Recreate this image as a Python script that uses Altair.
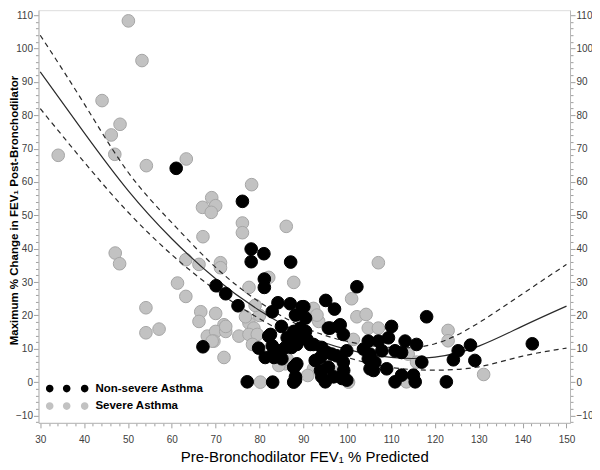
import altair as alt
import pandas as pd

# ---- Severe asthma (grey) ----
sev_x = [50.1, 53.2, 44.1, 48.2, 46.2, 47.0, 34.1, 54.2, 63.3, 78.2,
         67.0, 69.1, 70.0, 69.0, 76.1, 76.1, 86.1, 67.1, 47.1, 48.1,
         63.2, 66.2, 71.1, 71.1, 61.3, 63.2, 54.1, 54.1, 57.1, 66.6,
         70.0, 66.2, 68.1, 71.9, 70.0, 69.6, 72.3, 75.3, 71.9, 77.6,
         82.1, 77.6, 78.7, 77.6, 79.5, 78.4, 76.8, 80.2, 85.9, 87.8,
         107.1, 101.0, 102.2, 104.3, 92.3, 93.5, 100.3, 92.3, 104.8, 113.9,
         115.8, 113.5, 123.0, 123.0, 131.1, 101.4, 93.1, 86.3, 84.4, 80.0,
         79.0, 97.0, 107.1, 91.0, 72.3, 69.2]
sev_y = [108.3, 96.4, 84.4, 77.3, 74.1, 68.3, 68.0, 64.9, 66.9, 59.2,
         52.4, 55.3, 52.9, 50.9, 47.7, 44.8, 46.7, 43.6, 38.7, 35.5,
         36.7, 35.3, 35.8, 34.3, 29.7, 25.7, 22.3, 14.8, 15.9, 21.1,
         20.6, 18.2, 13.8, 17.2, 15.2, 12.3, 15.2, 13.8, 7.4, 28.4,
         31.4, 17.7, 16.2, 14.3, 14.3, 11.3, 19.6, 0.0, 5.5, 29.9,
         35.8, 25.0, 19.6, 20.3, 22.1, 18.2, 0.0, 4.0, 16.2, 8.4,
         6.0, 0.1, 15.5, 12.4, 2.3, 12.8, 20.1, 6.9, 5.0, 20.0,
         23.0, 3.0, 16.2, 2.0, 16.7, 12.3]

# ---- Non-severe asthma (black) ----
non_x = [61.0, 76.1, 78.1, 81.0, 78.1, 87.1, 70.1, 72.3, 75.1, 67.1,
         81.1, 81.1, 79.8, 77.2, 83.0, 87.8, 84.2, 87.0, 82.9, 85.0,
         82.1, 82.9, 84.0, 85.1, 87.8, 87.8, 87.8, 102.2, 95.1, 97.1,
         90.1, 88.2, 90.5, 95.7, 98.0, 99.1, 90.5, 88.9, 91.6, 94.2,
         96.5, 99.9, 99.1, 88.2, 92.7, 95.7, 88.2, 94.2, 95.0, 98.8,
         99.9, 104.8, 107.1, 109.4, 110.1, 113.2, 115.8, 103.7, 104.8, 106.3,
         109.0, 110.9, 112.4, 106.0, 110.9, 112.4, 115.1, 115.5, 117.0, 122.6,
         118.1, 125.3, 124.2, 128.1, 129.1, 142.2, 89.7, 89.3, 82.5, 83.3,
         86.3, 85.9, 88.5, 90.8, 92.3, 83.3, 96.1, 98.4, 95.4, 93.9,
         97.6, 88.5, 88.2, 93.9, 96.9, 99.2, 105.2, 107.9, 105.2, 87.3,
         81.3, 84.3, 88.1]
non_y = [64.1, 54.2, 39.9, 38.5, 36.1, 36.0, 28.9, 26.5, 22.9, 10.6,
         30.9, 28.4, 10.2, 0.1, 0.0, 0.0, 23.8, 23.5, 21.1, 16.7,
         13.8, 10.9, 9.4, 7.0, 15.2, 12.3, 4.5, 28.6, 24.5, 21.9,
         22.6, 20.1, 19.2, 16.2, 16.7, 14.3, 15.2, 12.3, 11.3, 10.4,
         8.4, 9.4, 6.0, 5.0, 6.5, 4.5, 0.6, 1.6, 0.1, 1.1,
         0.6, 12.3, 12.3, 13.3, 16.7, 12.3, 11.3, 9.9, 7.0, 6.0,
         4.0, 9.4, 8.9, 3.5, 0.1, 2.1, 2.1, 0.1, 6.0, 0.1,
         19.6, 9.4, 6.7, 11.1, 6.5, 11.5, 22.6, 16.2, 14.3, 9.4,
         13.3, 10.4, 11.3, 12.8, 11.3, 7.4, 16.2, 17.2, 8.9, 7.4,
         7.9, 5.5, 1.6, 3.5, 1.6, 3.5, 8.4, 9.4, 4.0, 10.4,
         7.4, 9.4, 13.3]

# ---- Fitted curve and confidence limits ----
fit_x = [30, 40, 50, 60, 70, 80, 90, 100, 110, 120, 130, 140, 150]
fit_mid = [93.0, 74.8, 57.5, 43.0, 31.0, 21.5, 14.3, 9.8, 7.4, 7.5, 10.8, 16.8, 22.8]
fit_hi = [104.0, 83.5, 63.0, 47.8, 34.4, 24.0, 16.5, 12.2, 10.4, 11.5, 17.8, 26.5, 35.3]
fit_lo = [82.0, 66.0, 51.0, 38.2, 27.6, 19.0, 12.2, 7.4, 4.4, 3.6, 4.6, 7.8, 10.2]

groups = ["Non-severe Asthma", "Severe Asthma"]
group_colors = ["#000000", "#c2c2c2"]

pts = pd.concat([
    pd.DataFrame({"x": sev_x, "y": sev_y, "group": groups[1]}),
    pd.DataFrame({"x": non_x, "y": non_y, "group": groups[0]}),
], ignore_index=True)
fit = pd.DataFrame({"x": fit_x, "mid": fit_mid, "hi": fit_hi, "lo": fit_lo})

FONT = "Liberation Sans, Arial, sans-serif"

xscale = alt.Scale(domain=[29.6, 150.8], nice=False, zero=False)
yscale = alt.Scale(domain=[-12.2, 111.5], nice=False, zero=False)

major_test = "datum.value % 10 === 0"
xaxis = alt.Axis(
    values=list(range(30, 151, 2)),
    labelExpr=f"{major_test} ? datum.label : ''",
    tickSize={"condition": {"test": major_test, "value": 5}, "value": 3},
    title="Pre-Bronchodilator FEV\u2081 % Predicted",
    titleFont=FONT, titleFontSize=15, titleFontWeight="normal", titleColor="#000000",
    titlePadding=5,
    labelFont=FONT, labelFontSize=10, labelColor="#404040", labelPadding=7,
    domainColor="#b8b8b8", tickColor="#a0a0a0", grid=False,
)

def yaxis(orient, title):
    kw = dict(
        orient=orient,
        values=list(range(-12, 111, 2)),
        labelExpr=f"{major_test} ? datum.label : ''",
        tickSize={"condition": {"test": major_test, "value": 5}, "value": 3},
        labelFont=FONT, labelFontSize=10, labelColor="#404040", labelPadding=1,
        domainColor="#b8b8b8", tickColor="#a0a0a0", grid=False,
        title=title,
    )
    if title:
        kw.update(titleFont=FONT, titleFontSize=11.5, titleFontWeight="bold",
                  titleColor="#000000", titleAngle=270, titleX=-23.5, titleY=200,
                  titleAlign="center", titleBaseline="middle")
    return alt.Axis(**kw)

# three dots per legend entry
r = 3.8
dots = " ".join(
    f"M{cx - r},0A{r},{r} 0 1,1 {cx + r},0A{r},{r} 0 1,1 {cx - r},0Z" for cx in (-17, 0, 18)
)
legend = alt.Legend(
    title=None, orient="none", legendX=22.5, legendY=373, padding=0,
    symbolType=dots, symbolSize=4, symbolStrokeWidth=0, symbolOpacity=1,
    labelFont=FONT, labelFontSize=11.5, labelFontWeight="bold", labelColor="#000000",
    labelOffset=23, rowPadding=4.5,
)
color = alt.Color("group:N", scale=alt.Scale(domain=groups, range=group_colors), legend=legend)
stroke = alt.Stroke("group:N", scale=alt.Scale(domain=groups, range=["#000000", "#a6a6a6"]), legend=None)

grey = alt.Chart(pts).transform_filter(alt.datum.group == groups[1]).mark_point(
    filled=True, size=160, opacity=1, strokeWidth=1, strokeOpacity=1
).encode(
    x=alt.X("x:Q", scale=xscale, axis=xaxis),
    y=alt.Y("y:Q", scale=yscale, axis=yaxis("left", "Maximum % Change in FEV\u2081 Post-Bronchodilator")),
    color=color, stroke=stroke,
)

black = alt.Chart(pts).transform_filter(alt.datum.group == groups[0]).mark_point(
    filled=True, size=160, opacity=1, strokeWidth=1, strokeOpacity=1
).encode(
    x=alt.X("x:Q", scale=xscale, axis=xaxis),
    y=alt.Y("y:Q", scale=yscale, axis=yaxis("right", "")),
    color=color, stroke=stroke,
)

def curve(field, dash):
    mk = dict(color="#2a2a2a", strokeWidth=1.2, interpolate="natural")
    if dash:
        mk["strokeDash"] = [5, 4]
    return alt.Chart(fit).mark_line(**mk).encode(
        x=alt.X("x:Q", scale=xscale, axis=xaxis),
        y=alt.Y(f"{field}:Q", scale=yscale, axis=None),
    )

chart = alt.layer(
    grey, curve("hi", True), curve("lo", True), curve("mid", False), black
).resolve_axis(y="independent").properties(
    width=532, height=413,
    autosize=alt.AutoSizeParams(type="none"),
    padding={"left": 30.5, "right": 22, "top": 2, "bottom": 47},
).configure_view(stroke="#b8b8b8", strokeWidth=1).configure(background="white")

chart.save("out.html", embed_options={"renderer": "svg", "actions": False})
